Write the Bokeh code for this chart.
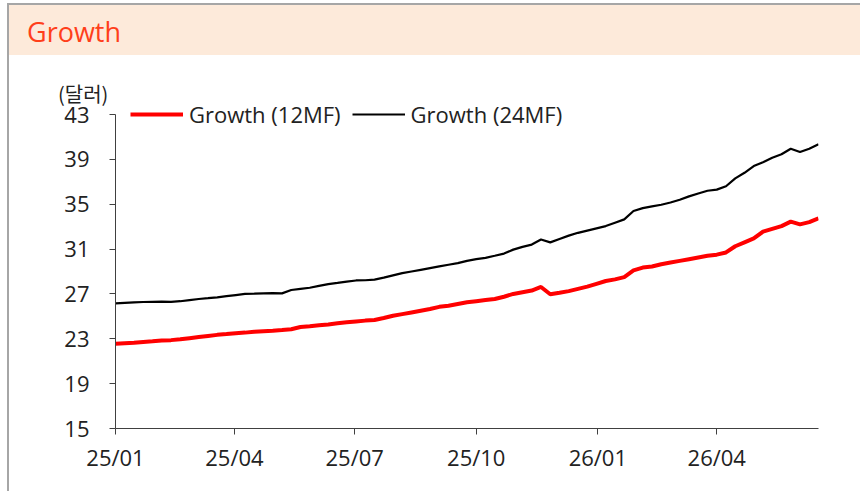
import pandas as pd
from bokeh.plotting import figure
from bokeh.layouts import column, row
from bokeh.models import Range1d, FixedTicker, Legend, LegendItem, Div
from bokeh.embed import file_html
from bokeh.resources import INLINE

# ---- data ----
start_date = "2025-01-01"
n_weeks = 77
growth_12mf = [22.55, 22.60, 22.65, 22.72, 22.78, 22.85, 22.88, 22.95, 23.05, 23.15,
               23.25, 23.35, 23.42, 23.50, 23.55, 23.62, 23.68, 23.72, 23.78, 23.85,
               24.05, 24.12, 24.20, 24.28, 24.38, 24.47, 24.55, 24.62, 24.68, 24.85,
               25.05, 25.20, 25.35, 25.50, 25.65, 25.85, 25.95, 26.10, 26.25, 26.35,
               26.45, 26.55, 26.75, 27.00, 27.15, 27.30, 27.62, 26.97, 27.10, 27.25,
               27.45, 27.65, 27.90, 28.15, 28.30, 28.50, 29.10, 29.35, 29.45, 29.65,
               29.80, 29.95, 30.10, 30.25, 30.40, 30.50, 30.70, 31.25, 31.60, 31.95,
               32.55, 32.80, 33.05, 33.45, 33.20, 33.40, 33.75]
growth_24mf = [26.15, 26.20, 26.25, 26.28, 26.30, 26.32, 26.30, 26.35, 26.45, 26.55,
               26.62, 26.70, 26.80, 26.90, 27.00, 27.02, 27.05, 27.08, 27.05, 27.35,
               27.45, 27.55, 27.72, 27.88, 27.98, 28.10, 28.20, 28.22, 28.28, 28.45,
               28.65, 28.85, 29.00, 29.15, 29.30, 29.45, 29.60, 29.75, 29.95, 30.10,
               30.22, 30.40, 30.60, 30.95, 31.20, 31.40, 31.85, 31.60, 31.90, 32.20,
               32.45, 32.65, 32.85, 33.05, 33.35, 33.65, 34.40, 34.65, 34.80, 34.95,
               35.15, 35.40, 35.70, 35.95, 36.20, 36.30, 36.60, 37.30, 37.80, 38.40,
               38.75, 39.15, 39.45, 39.95, 39.65, 39.95, 40.35]
tick_dates = ["2025-01-01", "2025-04-01", "2025-07-01", "2025-10-01", "2026-01-01", "2026-04-01"]
tick_labels = ["25/01", "25/04", "25/07", "25/10", "26/01", "26/04"]
y_ticks = [15, 19, 23, 27, 31, 35, 39, 43]
y_min, y_max = 15, 43
series_names = ["Growth (12MF)", "Growth (24MF)"]
title_text = "Growth"
unit_text = "(달러)"

dates = pd.date_range(start_date, periods=n_weeks, freq="7D")

def ms(d):
    return pd.Timestamp(d).value / 1e6

FONT = "Open Sans"
GRAY = "#a6a6a6"

# layout geometry (pixels)
FIG_W, FIG_H = 851, 392
FRAME_H = FIG_H - 63
PAD_TOP_PX = 15                      # frame space above the top tick
ppu = (FRAME_H - PAD_TOP_PX) / (y_max - y_min)
y_end = y_max + PAD_TOP_PX / ppu

p = figure(width=FIG_W, height=FIG_H, x_axis_type="datetime",
           output_backend="svg", toolbar_location=None,
           min_border_left=106, min_border_right=42, min_border_top=0, min_border_bottom=63,
           x_range=Range1d(ms(dates[0]), ms(dates[-1])), y_range=Range1d(y_min, y_end))
p.outline_line_color = None
p.grid.visible = False
p.background_fill_alpha = 0
p.border_fill_alpha = 0

r12 = p.line(dates, growth_12mf, line_color="#ff0000", line_width=4)
r24 = p.line(dates, growth_24mf, line_color="#000000", line_width=2.2)

p.xaxis.ticker = FixedTicker(ticks=[ms(d) for d in tick_dates])
p.xaxis.major_label_overrides = {ms(d): lab for d, lab in zip(tick_dates, tick_labels)}
p.yaxis.ticker = FixedTicker(ticks=y_ticks)
p.yaxis.bounds = (y_min, y_max)
for ax in (p.xaxis[0], p.yaxis[0]):
    ax.axis_line_color = "#404040"
    ax.major_tick_line_color = "#404040"
    ax.major_tick_out = 6
    ax.major_tick_in = 0
    ax.minor_tick_line_color = None
    ax.major_label_text_font = FONT
    ax.major_label_text_font_size = "22px"
    ax.major_label_text_color = "#222222"
p.yaxis.major_label_standoff = 20
p.xaxis.major_label_standoff = 7

LEG_H = 22
legend = Legend(items=[LegendItem(label=series_names[0], renderers=[r12]),
                       LegendItem(label=series_names[1], renderers=[r24])],
                location=(15, FRAME_H - 8 - LEG_H), orientation="horizontal",
                background_fill_alpha=0, border_line_alpha=0,
                padding=0, margin=0, spacing=11, label_standoff=6,
                glyph_width=53, glyph_height=LEG_H, label_height=LEG_H,
                label_text_font=FONT, label_text_font_size="22px", label_text_color="#222222")
p.add_layout(legend)

top_line = Div(text="", width=853, height=2, margin=0, styles={"background-color": GRAY})
left_line = Div(text="", width=2, height=486, margin=0, styles={"background-color": GRAY})
band = Div(text=title_text, width=851, height=50, margin=0,
           styles={"background-color": "#fdeada", "color": "#ff3f1a", "font-family": FONT,
                   "font-size": "27px", "line-height": "54px", "padding-left": "18px",
                   "box-sizing": "border-box", "overflow": "hidden"})
unit = Div(text=unit_text, width=851, height=44, margin=0,
           styles={"font-family": "Noto Sans CJK KR", "font-size": "20px", "color": "#222222",
                   "line-height": "24px", "padding-left": "49px", "padding-top": "27px",
                   "box-sizing": "border-box", "overflow": "visible", "z-index": "2"})

layout = column(top_line, row(left_line, column(band, unit, p, spacing=0, margin=0), spacing=0, margin=0),
                spacing=0, margin=0,
                styles={"position": "absolute", "left": "7px", "top": "3px", "background-color": "white"})

open("out.html", "w").write(file_html(layout, INLINE))
